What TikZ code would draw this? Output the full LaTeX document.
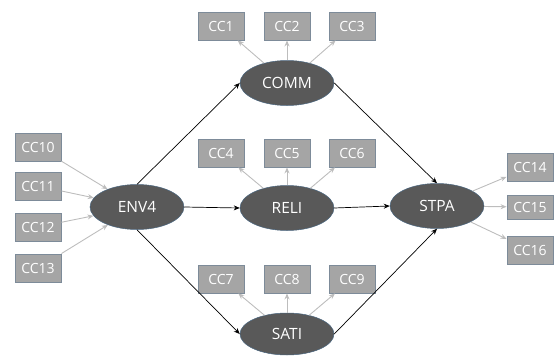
\documentclass[tikz,border=0pt]{standalone}
\usepackage{fontspec}
\setmainfont{Open Sans}
\usetikzlibrary{arrows.meta}
\definecolor{boxfill}{HTML}{A5A5A5}
\definecolor{boxline}{HTML}{7D8B99}
\definecolor{latfill}{HTML}{595959}
\definecolor{latline}{HTML}{4A6680}
\definecolor{lightarr}{HTML}{BDBDBD}
\tikzset{
  ind/.style={draw=boxline, fill=boxfill, line width=0.9pt, minimum width=46pt, minimum height=28pt, inner sep=0pt, text=white, font=\fontsize{14}{16}\selectfont},
  lat/.style={ellipse, draw=latline, fill=latfill, line width=0.5pt, minimum width=94pt, minimum height=45pt, inner sep=0pt, text=white, font=\fontsize{15.5}{18}\selectfont},
  path/.style={draw=black, line width=0.7pt, -{Stealth[length=6pt,width=5pt]}},
  load/.style={draw=lightarr, line width=0.9pt, -{Stealth[length=6pt,width=5pt]}}
}
\usetikzlibrary{shapes.geometric}
\begin{document}
\begin{tikzpicture}[x=1pt,y=-1pt]
\useasboundingbox (0,0) rectangle (555,356);
\node[ind] (cc1) at (221,26) {CC1};
\node[ind] (cc2) at (287,26) {CC2};
\node[ind] (cc3) at (352,26) {CC3};
\node[ind] (cc4) at (221,153) {CC4};
\node[ind] (cc5) at (287,153) {CC5};
\node[ind] (cc6) at (352,153) {CC6};
\node[ind] (cc7) at (221,279) {CC7};
\node[ind] (cc8) at (287,279) {CC8};
\node[ind] (cc9) at (352,279) {CC9};
\node[ind] (cc10) at (38,147) {CC10};
\node[ind] (cc11) at (38,186) {CC11};
\node[ind] (cc12) at (38,227) {CC12};
\node[ind] (cc13) at (38,268) {CC13};
\node[ind] (cc14) at (530,167) {CC14};
\node[ind, minimum height=24pt] (cc15) at (530,207) {CC15};
\node[ind] (cc16) at (530,250) {CC16};
\node[lat] (comm) at (287,83) {COMM};
\node[lat] (env) at (137,207) {ENV4};
\node[lat] (reli) at (287,208) {RELI};
\node[lat] (stpa) at (437,206) {STPA};
\node[lat, minimum height=42pt] (sati) at (287,334) {SATI};
% loadings
\foreach \i in {cc1,cc2,cc3} \draw[load] (comm) -- (\i);
\foreach \i in {cc4,cc5,cc6} \draw[load] (reli) -- (\i);
\foreach \i in {cc7,cc8,cc9} \draw[load] (sati) -- (\i);
\foreach \i in {cc14,cc15,cc16} \draw[load] (stpa) -- (\i);
\foreach \i in {cc10,cc11,cc12,cc13} \draw[load] (\i) -- (env);
% structural paths
\draw[path] (env.north) -- (comm.west);
\draw[path] (env.east) -- (reli.west);
\draw[path] (env.south) -- (sati.west);
\draw[path] (comm.east) -- (stpa.north);
\draw[path] (reli.east) -- (stpa.west);
\draw[path] (sati.east) -- (stpa.south);
\end{tikzpicture}
\end{document}
